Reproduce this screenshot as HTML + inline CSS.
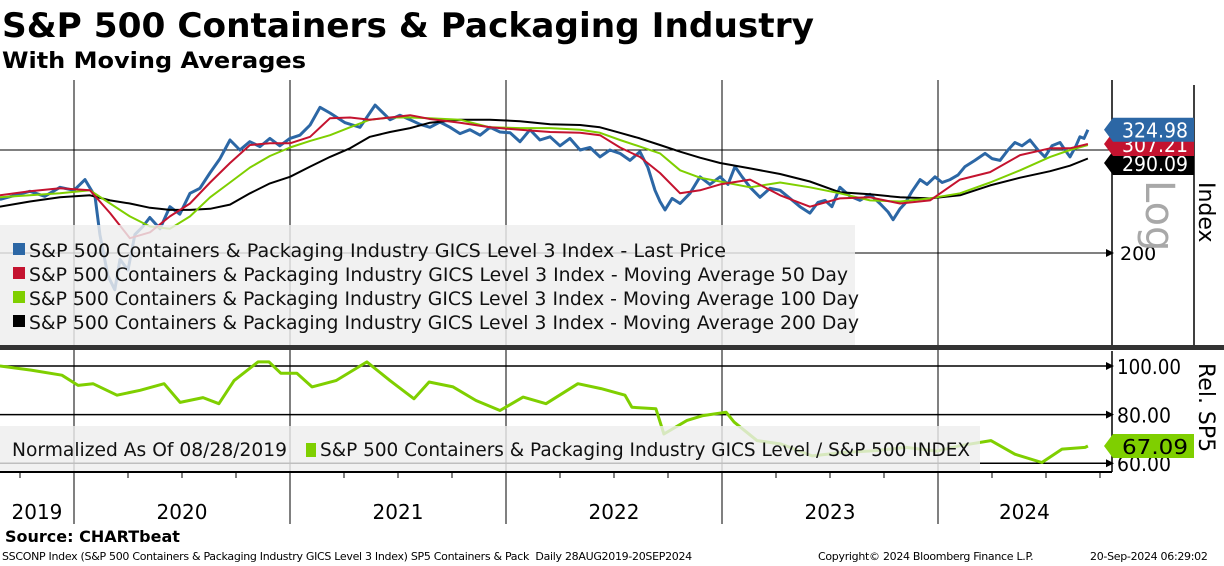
<!DOCTYPE html>
<html><head><meta charset="utf-8"><style>
html,body{margin:0;padding:0;background:#fff;}
svg{display:block;font-family:"DejaVu Sans","Liberation Sans",sans-serif;}
</style></head><body>
<svg id="chart" width="1224" height="566" viewBox="0 0 1224 566" xmlns="http://www.w3.org/2000/svg">
<rect x="0" y="0" width="1224" height="566" fill="#fff"/>
<text x="2" y="37" font-size="34" font-weight="bold" textLength="812" lengthAdjust="spacingAndGlyphs">S&amp;P 500 Containers &amp; Packaging Industry</text>
<text x="2" y="68" font-size="22" font-weight="bold" textLength="304" lengthAdjust="spacingAndGlyphs">With Moving Averages</text>
<defs>
<clipPath id="cTop"><rect x="0" y="80" width="1112" height="265"/></clipPath>
<clipPath id="cBot"><rect x="0" y="351" width="1112" height="121"/></clipPath>
</defs>
<g id="grid"></g>
<g id="topSeries" clip-path="url(#cTop)"></g>
<g id="botSeries" clip-path="url(#cBot)"></g>
<g id="overlay"></g>
</svg>
<script>
// ---- data ----
const priceT = [2019.657,2019.796,2019.865,2019.935,2020.000,2020.051,2020.097,2020.120,2020.157,2020.189,2020.213,2020.250,2020.282,2020.319,2020.351,2020.398,2020.444,2020.490,2020.537,2020.583,2020.629,2020.676,2020.722,2020.768,2020.814,2020.861,2020.907,2020.953,2021.000,2021.046,2021.093,2021.139,2021.185,2021.255,2021.324,2021.394,2021.463,2021.509,2021.556,2021.602,2021.648,2021.694,2021.741,2021.787,2021.833,2021.880,2021.926,2021.972,2022.019,2022.065,2022.111,2022.157,2022.204,2022.250,2022.296,2022.343,2022.389,2022.435,2022.481,2022.528,2022.574,2022.620,2022.657,2022.690,2022.713,2022.736,2022.769,2022.806,2022.852,2022.898,2022.944,2022.991,2023.028,2023.060,2023.093,2023.130,2023.176,2023.222,2023.269,2023.315,2023.361,2023.407,2023.444,2023.477,2023.509,2023.546,2023.593,2023.639,2023.685,2023.731,2023.769,2023.792,2023.824,2023.847,2023.880,2023.917,2023.949,2023.986,2024.019,2024.056,2024.093,2024.125,2024.171,2024.218,2024.250,2024.287,2024.324,2024.356,2024.389,2024.426,2024.463,2024.495,2024.528,2024.565,2024.588,2024.611,2024.639,2024.657,2024.676,2024.694];
const priceV = [247,255,250,259,256,267,250,215,183,173,195,187,215,222,230,220,240,233,253,258,274,290,312,300,310,304,314,305,314,318,331,355,347,334,328,358,338,344,338,332,328,335,328,320,325,318,328,322,321,310,325,312,316,305,314,300,303,292,300,296,288,298,280,256,245,237,248,243,253,270,262,270,262,281,270,259,249,258,256,248,240,234,244,246,240,259,250,246,252,243,235,228,238,243,255,267,262,270,264,267,272,281,288,296,290,288,300,309,305,312,300,292,305,309,300,292,305,316,314,324.98];
const maT = [2019.657,2019.796,2019.935,2020.074,2020.167,2020.259,2020.352,2020.444,2020.537,2020.630,2020.722,2020.815,2020.907,2021.000,2021.093,2021.185,2021.278,2021.370,2021.463,2021.556,2021.648,2021.787,2021.926,2022.065,2022.204,2022.343,2022.435,2022.528,2022.620,2022.713,2022.806,2022.898,2022.991,2023.130,2023.269,2023.407,2023.546,2023.685,2023.824,2023.963,2024.102,2024.241,2024.380,2024.519,2024.611,2024.694];
const ma50 = [251,255,258,256,234,212,217,231,243,264,285,306,308,308,316,340,341,338,341,344,339,334,328,325,322,321,318,303,292,274,253,256,262,267,251,240,248,249,243,246,267,275,294,302,302,307.21];
const ma100 = [249,251,253,256,243,231,222,220,231,249,264,280,293,303,311,318,328,338,341,341,340,338,328,327,327,325,321,312,304,296,277,269,265,259,264,259,253,246,245,248,253,264,277,292,300,306];
const ma200 = [240,245,249,251,246,243,239,237,237,238,242,253,263,270,281,292,302,316,322,327,334,338,338,336,332,331,328,321,314,306,298,291,285,279,273,265,254,252,249,248,251,261,269,276,282,290.09];
const relT = [2019.657,2019.801,2019.944,2020.019,2020.088,2020.199,2020.306,2020.417,2020.491,2020.597,2020.671,2020.741,2020.852,2020.903,2020.958,2021.032,2021.102,2021.213,2021.356,2021.463,2021.574,2021.644,2021.755,2021.861,2021.972,2022.079,2022.185,2022.333,2022.440,2022.551,2022.583,2022.694,2022.731,2022.838,2022.912,2023.019,2023.056,2023.162,2023.273,2023.417,2023.560,2023.704,2023.852,2023.995,2024.102,2024.245,2024.356,2024.481,2024.574,2024.681,2024.694];
const relV = [100,98.3,96.2,92,92.7,88,90,92.7,85,87,84.5,94,101.7,101.7,97,97,91.4,94,101.7,94,86.5,93.4,91.4,85.8,81.7,87.2,84.5,92.7,90.7,88,83,82.4,72,77.6,79.6,81,76.9,69.3,67.9,63,64.4,65.1,66.5,65,67.2,69.3,63.7,60.3,65.8,66.5,67.09];
const yearLabels = ["2019","2020","2021","2022","2023","2024"];
const yearStarts = [2020,2021,2022,2023,2024];
const topTicks = [200,300];
const botTicks = [100,80,60];
const botTickLabels = ["100.00","80.00","60.00"];

// ---- scales ----
const NS="http://www.w3.org/2000/svg";
function xOf(t){return 74+(t-2020)*216;}
function yTop(v){return 253-254*Math.log(v/200);}
function yBot(v){return 366+(100-v)*2.43;}
function mk(tag,attrs,parent,txt){const e=document.createElementNS(NS,tag);for(const k in attrs)e.setAttribute(k,attrs[k]);if(txt!==undefined)e.textContent=txt;parent.appendChild(e);return e;}
const grid=document.getElementById('grid'),topG=document.getElementById('topSeries'),botG=document.getElementById('botSeries'),ov=document.getElementById('overlay');

// year gridlines
yearStarts.forEach(function(y){
  const l=mk('line',{x1:xOf(y),x2:xOf(y),y1:80,y2:524,stroke:'#000','stroke-width':1},grid);
  
  
});
topTicks.forEach(function(v){
  const l=mk('line',{x1:0,x2:1112,y1:yTop(v),y2:yTop(v),stroke:'#000','stroke-width':1},grid);
  
  
});
botTicks.forEach(function(v){
  const l=mk('line',{x1:0,x2:1112,y1:yBot(v),y2:yBot(v),stroke:'#000','stroke-width':1.5},grid);
  
  
});

function line(ts,vs,yf,color,w,parent,name){
  let d='';for(let i=0;i<ts.length;i++){d+=(i?'L':'M')+xOf(ts[i]).toFixed(1)+','+yf(vs[i]).toFixed(1);}
  const p=mk('path',{d:d,fill:'none',stroke:color,'stroke-width':w,'stroke-linejoin':'round'},parent);
  
  
  return p;
}
line(priceT,priceV,yTop,'#2c67a5',3,topG,'last-price-line');
line(maT,ma200,yTop,'#000000',2,topG,'ma200-line');
line(maT,ma100,yTop,'#7fcf00',2,topG,'ma100-line');
line(maT,ma50,yTop,'#c4132f',2,topG,'ma50-line');
line(relT,relV,yBot,'#7fcf00',3,botG,'relative-line');

// legends
const lg=mk('rect',{x:0,y:225,width:855,height:121,fill:'#eeeeee','fill-opacity':0.82},ov);


const legColors=['#2c67a5','#c4132f','#7fcf00','#000'];
const legText=['S&P 500 Containers & Packaging Industry GICS Level 3 Index - Last Price','S&P 500 Containers & Packaging Industry GICS Level 3 Index - Moving Average 50 Day','S&P 500 Containers & Packaging Industry GICS Level 3 Index - Moving Average 100 Day','S&P 500 Containers & Packaging Industry GICS Level 3 Index - Moving Average 200 Day'];
const legW=[697,819,830,830];
for(let i=0;i<4;i++){
  const s=mk('rect',{x:13,y:243+i*24,width:12,height:12,fill:legColors[i]},ov);
  
  
  const t=mk('text',{x:29,y:257+i*24,'font-size':19,fill:'#111',textLength:legW[i],lengthAdjust:'spacingAndGlyphs'},ov,legText[i]);
  
  
}
const lg2=mk('rect',{x:0,y:426,width:980,height:45,fill:'#eeeeee','fill-opacity':0.8},ov);


const lt1=mk('text',{x:12,y:456,'font-size':19,fill:'#111',textLength:275,lengthAdjust:'spacingAndGlyphs'},ov,'Normalized As Of 08/28/2019');


const ls=mk('rect',{x:306,y:443,width:10,height:14,fill:'#7fcf00'},ov);


const lt2=mk('text',{x:320,y:456,'font-size':19,fill:'#111',textLength:650,lengthAdjust:'spacingAndGlyphs'},ov,'S&P 500 Containers & Packaging Industry GICS Level / S&P 500 INDEX');



// panel divider
const dv=mk('rect',{x:0,y:345,width:1224,height:5,fill:'#333'},ov);


// axes
[[1112,80,1112,345],[1194,85,1194,345],[1112,351,1112,472],[0,472,1112,472]].forEach(function(a,i){
  const l=mk('line',{x1:a[0],y1:a[1],x2:a[2],y2:a[3],stroke:'#000','stroke-width':i==3?2:1.5},ov);
  
  
});
// quarter ticks
for(let q=2019.75;q<2024.8;q+=0.25){
  const l=mk('line',{x1:xOf(q),x2:xOf(q),y1:472,y2:478,stroke:'#000','stroke-width':1},ov);
  
  
}
// year labels
const yrStartsAll=[2019.657,2020,2021,2022,2023,2024];
const yrEndsAll=[2020,2021,2022,2023,2024,2024.8];
yearLabels.forEach(function(s,i){
  const t=mk('text',{x:(xOf(yrStartsAll[i])+xOf(yrEndsAll[i]))/2,y:519,'font-size':20,'text-anchor':'middle',fill:'#000'},ov,s);
  
  
});
// top axis label
const t200=mk('text',{x:1120,y:260,'font-size':19,fill:'#000'},ov,'200');


const ar=mk('path',{d:'M1106,249L1114,253L1106,257Z',fill:'#000'},ov);


const lgT=mk('text',{x:0,y:0,'font-size':40,fill:'#a8a8a8',transform:'translate(1146,180) rotate(90)'},ov,'Log');


const ix=mk('text',{x:0,y:0,'font-size':22,fill:'#000',transform:'translate(1199,182) rotate(90)'},ov,'Index');


// bottom axis labels
botTicks.forEach(function(v,i){
  const a=mk('path',{d:'M1106,'+(yBot(v)-4)+'L1114,'+yBot(v)+'L1106,'+(yBot(v)+4)+'Z',fill:'#000'},ov);
  
  
  const t=mk('text',{x:1117,y:yBot(v)+8,'font-size':20,fill:'#000',textLength:i==0?64:54,lengthAdjust:'spacingAndGlyphs'},ov,botTickLabels[i]);
  
  
});
const rs=mk('text',{x:0,y:0,'font-size':22,fill:'#000',transform:'translate(1199,363) rotate(90)'},ov,'Rel. SP5');


// value tags
function tag(v,yf,fill,txtColor,name,label){
  const y=yf(v);
  const p=mk('path',{d:'M1104,'+y+'L1113,'+(y-12)+'L1194,'+(y-12)+'L1194,'+(y+12)+'L1113,'+(y+12)+'Z',fill:fill},ov);
  
  
  const t=mk('text',{x:1122,y:y+8,'font-size':20,fill:txtColor,textLength:66,lengthAdjust:'spacingAndGlyphs'},ov,label);
  
  
}
tag(ma200[ma200.length-1]-5,yTop,'#000','#fff','ma200',ma200[ma200.length-1].toFixed(2));
tag(ma50[ma50.length-1],yTop,'#c4132f','#fff','ma50',ma50[ma50.length-1].toFixed(2));
tag(priceV[priceV.length-1],yTop,'#2c67a5','#fff','last-price',priceV[priceV.length-1].toFixed(2));
tag(relV[relV.length-1],yBot,'#7fcf00','#000','relative',relV[relV.length-1].toFixed(2));
</script>
<div style="position:absolute;left:0;top:0;width:1224px;height:566px;pointer-events:none;font-family:'DejaVu Sans','Liberation Sans',sans-serif;">
<div style="position:absolute;left:5px;top:527px;font-size:16px;font-weight:bold;">Source: CHARTbeat</div>
<div style="position:absolute;left:2px;top:550px;font-size:11px;white-space:nowrap;letter-spacing:-0.3px;">SSCONP Index (S&amp;P 500 Containers &amp; Packaging Industry GICS Level 3 Index) SP5 Containers &amp; Pack&nbsp; Daily 28AUG2019-20SEP2024</div>
<div style="position:absolute;left:818px;top:550px;font-size:11px;white-space:nowrap;letter-spacing:-0.3px;">Copyright© 2024 Bloomberg Finance L.P.</div>
<div style="position:absolute;left:1090px;top:550px;font-size:11px;white-space:nowrap;letter-spacing:-0.3px;">20-Sep-2024 06:29:02</div>
</div>
</body></html>
